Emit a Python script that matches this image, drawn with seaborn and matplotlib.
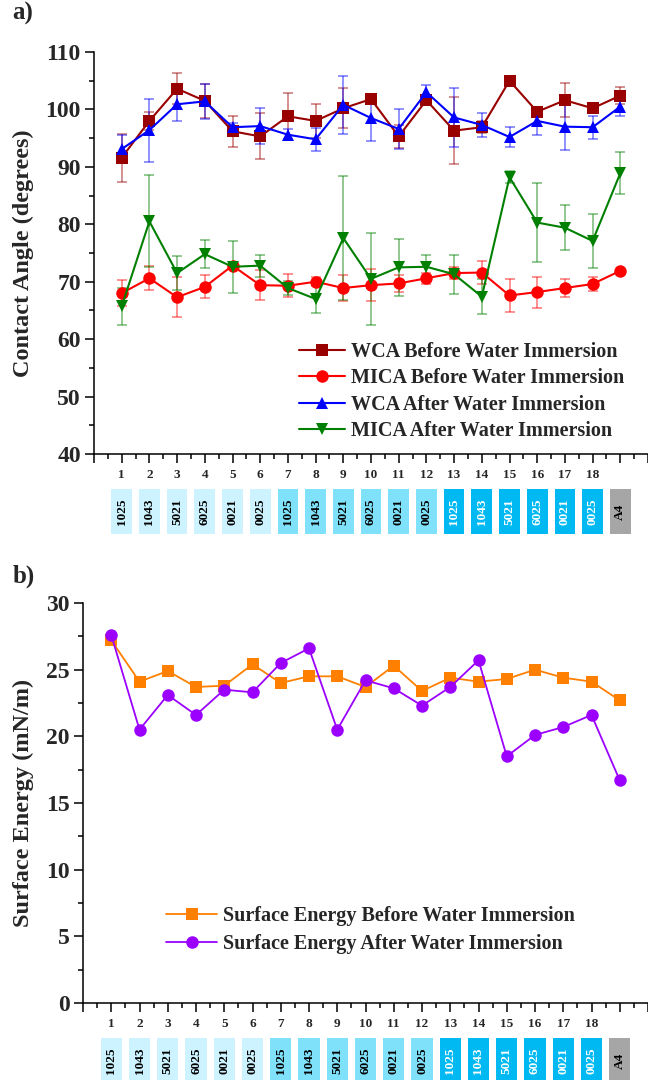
import matplotlib
matplotlib.use('Agg')
import matplotlib.pyplot as plt
import matplotlib.transforms as mtransforms
from matplotlib.patches import Rectangle
from matplotlib.ticker import MultipleLocator
import seaborn as sns
import pandas as pd

# dados (posicao 19 = A4)
pos = list(range(1, 20))
codes = ['1025', '1043', '5021', '6025', '0021', '0025'] * 3 + ['A4']
tick_nums = [str(i) for i in range(1, 19)]

wca_before = [91.6, 98.0, 103.6, 101.5, 96.2, 95.3, 98.8, 98.0, 100.2, 101.8,
              95.3, 101.6, 96.3, 96.9, 105.0, 99.6, 101.6, 100.2, 102.4]
wca_before_err = [4.2, 1.5, 2.7, 3.0, 2.7, 4.0, 4.0, 3.0, 3.5, 0.5,
                  2.0, 0.8, 5.8, 1.0, 0.3, 0.8, 3.0, 0.5, 1.5]
mica_before = [68.0, 70.6, 67.3, 69.1, 72.8, 69.4, 69.3, 70.0, 68.9, 69.4,
               69.7, 70.6, 71.5, 71.6, 67.6, 68.2, 68.9, 69.6, 71.9]
mica_before_err = [2.3, 2.1, 3.5, 2.0, 0.5, 2.6, 2.0, 0.8, 2.3, 2.8,
                   1.5, 1.0, 1.0, 2.0, 2.9, 2.7, 1.5, 1.2, 0.0]
wca_after = [93.1, 96.4, 100.9, 101.4, 96.9, 97.1, 95.6, 94.8, 100.8, 98.5,
             96.6, 103.0, 98.6, 97.3, 95.2, 98.0, 97.0, 96.9, 100.5]
wca_after_err = [2.5, 5.5, 3.0, 3.0, 0.8, 3.1, 1.0, 2.0, 5.0, 4.0,
                 3.5, 1.2, 5.2, 2.1, 1.8, 2.4, 4.0, 2.0, 1.7]
mica_after = [65.7, 80.5, 71.5, 74.8, 72.6, 72.8, 68.9, 67.0, 77.6, 70.5,
              72.5, 72.6, 71.3, 67.4, 88.2, 80.3, 79.4, 77.1, 88.9]
mica_after_err = [3.2, 8.0, 3.0, 2.4, 4.5, 1.9, 1.2, 2.5, 10.8, 8.0,
                  5.0, 2.0, 3.4, 3.0, 1.0, 6.9, 3.9, 4.7, 3.7]

se_before = [27.2, 24.1, 24.9, 23.7, 23.8, 25.4, 24.0, 24.5, 24.5, 23.7,
             25.3, 23.4, 24.4, 24.1, 24.3, 25.0, 24.4, 24.1, 22.7]
se_after = [27.6, 20.5, 23.1, 21.6, 23.5, 23.3, 25.5, 26.6, 20.5, 24.2,
            23.6, 22.3, 23.7, 25.7, 18.5, 20.1, 20.7, 21.6, 16.7]

top_names = ['WCA Before Water Immersion', 'MICA Before Water Immersion',
             'WCA After Water Immersion', 'MICA After Water Immersion']
top_vals = [wca_before, mica_before, wca_after, mica_after]
top_errs = [wca_before_err, mica_before_err, wca_after_err, mica_after_err]
top_colors = ['#990000', '#FF0000', '#0000FF', '#008000']
top_markers = ['s', 'o', '^', 'v']

bot_names = ['Surface Energy Before Water Immersion', 'Surface Energy After Water Immersion']
bot_colors = ['#FF8000', '#9B00FF']
bot_markers = ['s', 'o']

box_colors = ['#CCF3FF'] * 6 + ['#7FE1FA'] * 6 + ['#00B9F2'] * 6 + ['#A6A6A6']
box_text_colors = ['black'] * 12 + ['white'] * 6 + ['black']

sns.set_theme(style='ticks')
plt.rcParams['font.family'] = ['Liberation Serif', 'DejaVu Serif']
plt.rcParams['font.weight'] = 'bold'
plt.rcParams['axes.labelweight'] = 'bold'
plt.rcParams['axes.linewidth'] = 1.1
plt.rcParams['axes.edgecolor'] = 'black'

fig = plt.figure(figsize=(6.48, 10.8), dpi=100)
ax1 = fig.add_axes([94 / 648, 1 - 454 / 1080, 554 / 648, 402 / 1080])
ax2 = fig.add_axes([83 / 648, 1 - 1003 / 1080, 565 / 648, 400 / 1080])

# grafico a) angulo de contato
df_top = pd.DataFrame({
    'pos': pos * 4,
    'val': sum(top_vals, []),
    'serie': [n for n in top_names for _ in pos],
})
for vals, errs, c in zip(top_vals, top_errs, top_colors):
    ax1.errorbar(pos, vals, yerr=errs, fmt='none', ecolor=c, alpha=0.5,
                 elinewidth=1.2, capsize=3.5, capthick=1.2, zorder=1)
sns.lineplot(data=df_top, x='pos', y='val', hue='serie', style='serie',
             hue_order=top_names, style_order=top_names,
             palette=dict(zip(top_names, top_colors)),
             markers=dict(zip(top_names, top_markers)), dashes=False,
             markersize=9, markeredgewidth=0, linewidth=1.5,
             errorbar=None, ax=ax1, zorder=3)

# grafico b) energia de superficie
df_bot = pd.DataFrame({
    'pos': pos * 2,
    'val': se_before + se_after,
    'serie': [n for n in bot_names for _ in pos],
})
sns.lineplot(data=df_bot, x='pos', y='val', hue='serie', style='serie',
             hue_order=bot_names, style_order=bot_names,
             palette=dict(zip(bot_names, bot_colors)),
             markers=dict(zip(bot_names, bot_markers)), dashes=False,
             markersize=9, markeredgewidth=0, linewidth=1.3,
             errorbar=None, ax=ax2)

for ax, xmax, ymin, ymax, ymaj, ymin_step in [(ax1, 19.93, 40, 110, 10, 5),
                                             (ax2, 20.0, 0, 30, 5, 2.5)]:
    ax.set_xlim(0, xmax)
    ax.set_ylim(ymin, ymax)
    ax.yaxis.set_major_locator(MultipleLocator(ymaj))
    ax.yaxis.set_minor_locator(MultipleLocator(ymin_step))
    ax.set_xticks(range(0, 21))
    ax.set_xticklabels([''] + tick_nums + ['', ''])
    ax.xaxis.set_minor_locator(MultipleLocator(0.5))
    ax.tick_params(axis='both', which='major', direction='out', length=6.5,
                   width=1.1, color='black')
    ax.tick_params(axis='both', which='minor', direction='out', length=3.5,
                   width=1.1, color='black')
    ax.tick_params(axis='y', labelsize=17, pad=3)
    ax.tick_params(axis='x', labelsize=9.5, pad=4)
    for lab in ax.get_xticklabels() + ax.get_yticklabels():
        lab.set_fontweight('bold')
    sns.despine(ax=ax)
    ax.set_xlabel('')

    # caixas com os codigos de cor
    trans = mtransforms.blended_transform_factory(ax.transData, ax.transAxes)
    h_ax = 402 if ax is ax1 else 400
    y_top = -35 / h_ax
    h_box = 45 / h_ax
    w_box = 0.75
    for p, code, bc, tc in zip(pos, codes, box_colors, box_text_colors):
        ax.add_patch(Rectangle((p - w_box / 2, y_top - h_box), w_box, h_box,
                               transform=trans, facecolor=bc, edgecolor='none',
                               clip_on=False))
        ax.text(p, y_top - h_box / 2, code, transform=trans, rotation=90,
                ha='center', va='center', fontsize=9.5, fontweight='bold',
                color=tc, clip_on=False)

ax1.set_ylabel('Contact Angle (degrees)', fontsize=17.5, fontweight='bold')
ax1.yaxis.set_label_coords((34 - 94) / 554, 0.5)
ax2.set_ylabel('Surface Energy (mN/m)', fontsize=17.5, fontweight='bold')
ax2.yaxis.set_label_coords((34 - 83) / 565, 0.5)

h1, l1 = ax1.get_legend_handles_labels()
ax1.legend(h1, l1, loc='center', bbox_to_anchor=(0.664, 0.155), frameon=False,
           prop={'size': 14.5, 'weight': 'bold'}, handlelength=2.3,
           handletextpad=0.3, labelspacing=0.32)
h2, l2 = ax2.get_legend_handles_labels()
ax2.legend(h2, l2, loc='center', bbox_to_anchor=(0.509, 0.183), frameon=False,
           prop={'size': 14.5, 'weight': 'bold'}, handlelength=2.5,
           handletextpad=0.3, labelspacing=0.4)

fig.text(12 / 648, 1 - 2 / 1080, 'a)', fontsize=18, fontweight='bold', va='top', ha='left')
fig.text(13 / 648, 1 - 565 / 1080, 'b)', fontsize=18, fontweight='bold', va='top', ha='left')

fig.savefig('out.png', dpi=100)
